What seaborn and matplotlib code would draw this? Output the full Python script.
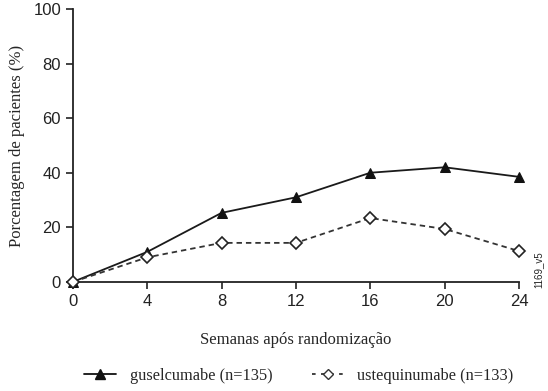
import matplotlib
matplotlib.use("Agg")
import matplotlib.pyplot as plt
import seaborn as sns
import pandas as pd

weeks = [0, 4, 8, 12, 16, 20, 24]
gusel = [0, 11, 25.3, 31, 40, 42, 38.5]
ustek = [0, 9, 14.3, 14.3, 23.4, 19.4, 11.3]
yticks = [0, 20, 40, 60, 80, 100]
label_g = "guselcumabe (n=135)"
label_u = "ustequinumabe (n=133)"

sns.set_style("ticks")
plt.rcParams['font.family'] = ['Liberation Sans', 'DejaVu Sans']

df = pd.DataFrame({"week": weeks * 2,
                   "pct": gusel + ustek,
                   "grp": [label_g] * len(weeks) + [label_u] * len(weeks)})

fig = plt.figure(figsize=(5.48, 3.91), dpi=100)
ax = fig.add_axes([0.133, 0.279, 0.814, 0.698])

sns.lineplot(data=df, x="week", y="pct", hue="grp", style="grp",
             palette={label_g: "#1a1a1a", label_u: "#333333"},
             dashes={label_g: "", label_u: (3, 2.2)},
             markers={label_g: "^", label_u: "D"},
             ax=ax, legend=False, linewidth=1.3, clip_on=False)
lines = ax.get_lines()
lines[0].set_markersize(7.5)
lines[0].set_markerfacecolor("#111111")
lines[0].set_markeredgecolor("#111111")
lines[1].set_markersize(6.5)
lines[1].set_markerfacecolor("white")
lines[1].set_markeredgecolor("#222222")
lines[1].set_markeredgewidth(1.2)
for l in lines:
    l.set_clip_on(False)
    l.set_zorder(5)

ax.set_xlim(0, 24)
ax.set_ylim(0, 100)
ax.set_xticks(weeks)
ax.set_yticks(yticks)
ax.tick_params(labelsize=12, colors="#222222", length=5, width=1.2)
for s in ["left", "bottom"]:
    ax.spines[s].set_linewidth(1.3)
    ax.spines[s].set_color("#222222")
sns.despine(ax=ax)

serif = ['Liberation Serif', 'DejaVu Serif']
ax.set_xlabel("Semanas após randomização", fontsize=12, family=serif, labelpad=17)
ax.set_ylabel("Porcentagem de pacientes (%)", fontsize=12, family=serif, labelpad=6)

from matplotlib.lines import Line2D
h1 = Line2D([], [], color="#111111", marker="^", markersize=7, linewidth=1.3)
h2 = Line2D([], [], color="#333333", marker="D", markersize=5.5, markerfacecolor="white",
            linestyle=(0, (2, 3)), linewidth=1.3)
fig.legend([h1, h2], [label_g, label_u], loc="center", bbox_to_anchor=(0.545, 0.038),
           ncol=2, frameon=False, prop={'family': serif, 'size': 11.8},
           columnspacing=2.4, handlelength=2.0, handletextpad=0.8)

fig.text(0.982, 0.31, "1169_v5", rotation=90, fontsize=7, ha="center", va="center")

fig.savefig("out.png", dpi=100)
